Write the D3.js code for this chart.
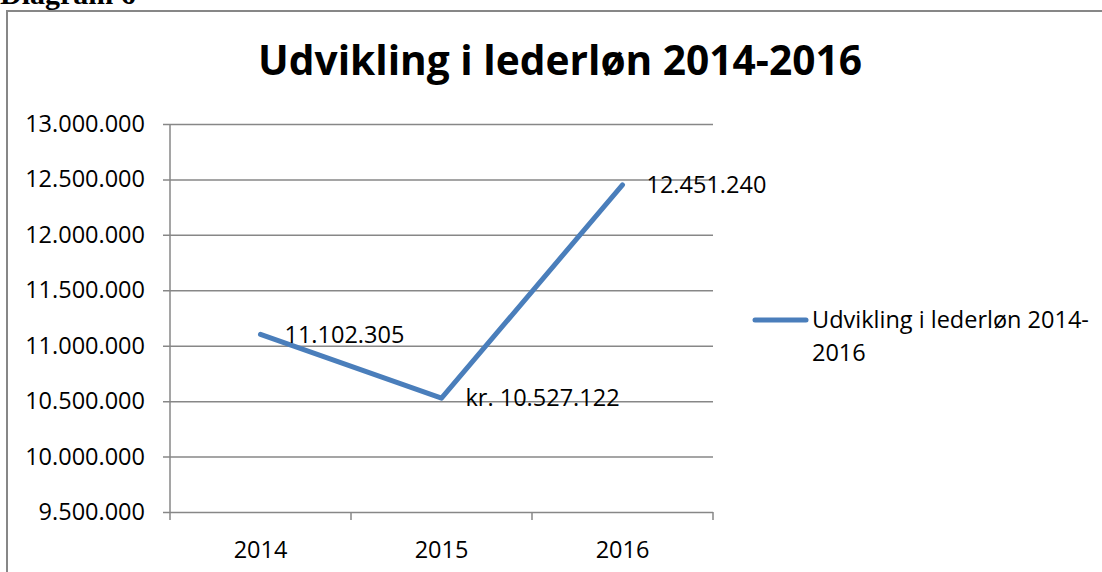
<!DOCTYPE html>
<html>
<head>
<meta charset="utf-8">
<script src="https://cdn.jsdelivr.net/npm/d3@7"></script>
<style>
  body { margin: 0; background: #fff; }
  svg { display: block; }
  text { font-family: 'Open Sans', sans-serif; fill: #000; }
</style>
</head>
<body>
<div id="chart"></div>
<script>
const years = ['2014', '2015', '2016']
const values = [11102305, 10527122, 12451240]
const valueLabels = ['11.102.305', 'kr. 10.527.122', '12.451.240']
const yTicks = [9500000, 10000000, 10500000, 11000000, 11500000, 12000000, 12500000, 13000000]
const seriesName = ['Udvikling i lederløn 2014-', '2016']
const title = 'Udvikling i lederløn 2014-2016'

const width = 1102
const height = 572
const plot = { left: 170, right: 713, top: 124, bottom: 512 }
const grey = '#878787'
const blue = '#4a7ebb'

const locale = d3.formatLocale({ decimal: ',', thousands: '.', grouping: [3], currency: ['kr. ', ''] })
const fmt = locale.format(',d')

const svg = d3.select('#chart').append('svg')
  .attr('width', width)
  .attr('height', height)

// Page heading, cut off at the top
svg.append('text')
  .attr('x', 0)
  .attr('y', 4)
  .style('font-family', "'Liberation Serif', serif")
  .style('font-weight', 'bold')
  .style('font-size', '30px')
  .text('Diagram 6')

// Chart frame
svg.append('rect')
  .attr('x', 7)
  .attr('y', 11)
  .attr('width', 1300)
  .attr('height', 700)
  .attr('fill', 'none')
  .attr('stroke', grey)
  .attr('stroke-width', 2)

// Title
const titleText = svg.append('text')
  .attr('x', 560)
  .attr('y', 75)
  .attr('text-anchor', 'middle')
  .style('font-weight', 'bold')
  .style('font-size', '40px')
  .text(title)
// fit to the reference width
const tw = titleText.node().getComputedTextLength()
titleText.style('font-size', (40 * 604 / tw) + 'px')

const x = d3.scaleBand()
  .domain(years)
  .range([plot.left, plot.right])

const y = d3.scaleLinear()
  .domain([9500000, 13000000])
  .range([plot.bottom, plot.top])

// Gridlines + y axis
const yAxis = svg.append('g')
  .attr('transform', `translate(${plot.left},0)`)
  .call(d3.axisLeft(y).tickValues(yTicks).tickFormat(fmt)
    .tickSize(-(plot.right - plot.left)).tickSizeOuter(0).tickPadding(25))
yAxis.select('.domain').remove()
yAxis.selectAll('.tick line')
  .attr('x1', -7)
  .attr('stroke', grey)
  .attr('stroke-width', 1.5)
yAxis.selectAll('.tick text')
  .style('font-family', "'Open Sans', sans-serif")
  .style('font-size', '23.5px')
  .attr('fill', '#000')

svg.append('line')
  .attr('x1', plot.left).attr('x2', plot.left)
  .attr('y1', plot.top).attr('y2', plot.bottom)
  .attr('stroke', grey)
  .attr('stroke-width', 1.5)

// x axis: ticks at category boundaries
const bounds = years.map(d => x(d)).concat([x(years[years.length - 1]) + x.bandwidth()])
svg.append('g')
  .selectAll('line')
  .data(bounds)
  .join('line')
  .attr('x1', d => d).attr('x2', d => d)
  .attr('y1', plot.bottom).attr('y2', plot.bottom + 8)
  .attr('stroke', grey)
  .attr('stroke-width', 1.5)

svg.append('g')
  .selectAll('text')
  .data(years)
  .join('text')
  .attr('x', d => x(d) + x.bandwidth() / 2)
  .attr('y', 550)
  .attr('dy', '0.35em')
  .attr('text-anchor', 'middle')
  .style('font-size', '23.5px')
  .text(d => d)

// Series line
const line = d3.line()
  .x((d, i) => x(years[i]) + x.bandwidth() / 2)
  .y(d => y(d))

svg.append('path')
  .datum(values)
  .attr('d', line)
  .attr('fill', 'none')
  .attr('stroke', blue)
  .attr('stroke-width', 5)
  .attr('stroke-linecap', 'round')
  .attr('stroke-linejoin', 'round')

// Data labels
svg.append('g')
  .selectAll('text')
  .data(values)
  .join('text')
  .attr('x', (d, i) => x(years[i]) + x.bandwidth() / 2 + 24)
  .attr('y', d => y(d))
  .attr('dy', '0.35em')
  .style('font-size', '23.5px')
  .text((d, i) => valueLabels[i])

// Legend
svg.append('line')
  .attr('x1', 755).attr('x2', 806)
  .attr('y1', 320).attr('y2', 320)
  .attr('stroke', blue)
  .attr('stroke-width', 5)
  .attr('stroke-linecap', 'round')

svg.append('g')
  .selectAll('text')
  .data(seriesName)
  .join('text')
  .attr('x', 812)
  .attr('y', (d, i) => 320 + i * 33)
  .attr('dy', '0.35em')
  .style('font-size', '23.5px')
  .text(d => d)
</script>
</body>
</html>
